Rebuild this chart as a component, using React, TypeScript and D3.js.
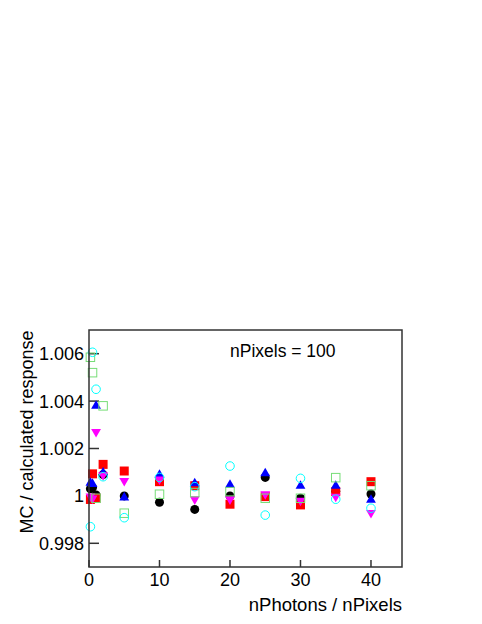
import React from "react";
import * as d3 from "d3";

const xValues = [0.2, 0.5, 1, 2, 5, 10, 15, 20, 25, 30, 35, 40];
const blackCircle = [1.0003, 1.00035, 1.00004, 1.0009, 1.0, 0.99973, 0.99943, 1.0, 1.00078, 0.9999, 1.0002, 1.00008];
const redSquare = [0.99985, 1.00093, 0.9999, 1.00133, 1.00105, 1.0006, 1.00043, 0.99965, 0.99997, 0.99962, 1.00018, 1.0006];
const blueTriUp = [1.00055, 1.0005, 1.0038, 1.00098, 0.99993, 1.00088, 1.00053, 1.00046, 1.00095, 1.00042, 1.00042, 0.99983];
const magentaTriDown = [0.99998, 0.9999, 1.0027, 1.00088, 1.00064, 1.0007, 0.99986, 0.99986, 1.00008, 0.9998, 0.99997, 0.99929];
const greenOpenSquare = [1.00585, 1.0052, 0.9999, 1.0038, 0.99927, 1.00007, 1.00014, 1.00018, 0.9999, 0.9999, 1.00077, 1.00043];
const cyanOpenCircle = [0.9987, 1.00606, 1.0045, 1.00081, 0.99908, 1.00078, 1.00039, 1.00126, 0.99919, 1.00074, 0.99986, 0.99948];

const xTicks = [0, 10, 20, 30, 40];
const yTicks = [0.998, 1.0, 1.002, 1.004, 1.006];
const yTickLabels = ["0.998", "1", "1.002", "1.004", "1.006"];

const series = [
  { name: "black", values: blackCircle, shape: "circle", fill: "#000000", stroke: "none" },
  { name: "red", values: redSquare, shape: "square", fill: "#ff0000", stroke: "none" },
  { name: "blue", values: blueTriUp, shape: "triUp", fill: "#0000ff", stroke: "none" },
  { name: "magenta", values: magentaTriDown, shape: "triDown", fill: "#ff00ff", stroke: "none" },
  { name: "green", values: greenOpenSquare, shape: "square", fill: "none", stroke: "#77dd77" },
  { name: "cyan", values: cyanOpenCircle, shape: "circle", fill: "none", stroke: "#00ffff" },
];

const W = 482;
const H = 624;
const left = 89;
const right = 402;
const top = 330;
const bottom = 567;

export default function App() {
  const x = d3.scaleLinear().domain([0, 44.4]).range([left, right]);
  const y = d3.scaleLinear().domain([0.997, 1.007]).range([bottom, top]);
  const font = "'Liberation Sans', Arial, Helvetica, sans-serif";

  const marker = (shape: string, cx: number, cy: number, fill: string, stroke: string, key: string) => {
    const open = fill === "none";
    const sw = open ? 1 : 0;
    if (shape === "circle") {
      return <circle key={key} cx={cx} cy={cy} r={open ? 4.3 : 4.5} fill={fill} stroke={stroke} strokeWidth={sw} />;
    }
    if (shape === "square") {
      const s = open ? 8.5 : 9;
      return <rect key={key} x={cx - s / 2} y={cy - s / 2} width={s} height={s} fill={fill} stroke={stroke} strokeWidth={sw} />;
    }
    const sym = d3.symbol().type(d3.symbolTriangle).size(42)();
    if (shape === "triUp") {
      return <path key={key} d={sym as string} transform={`translate(${cx},${cy})`} fill={fill} />;
    }
    return <path key={key} d={sym as string} transform={`translate(${cx},${cy}) rotate(180)`} fill={fill} />;
  };

  return (
    <svg width={W} height={H} style={{ display: "block", position: "absolute", left: 0, top: 0 }}>
      <rect x={0} y={0} width={W} height={H} fill="#ffffff" />
      {yTicks.map((t) => (
        <line key={"yt" + t} x1={left} x2={left + 10} y1={y(t)} y2={y(t)} stroke="#333" strokeWidth={1.5} />
      ))}
      {xTicks.map((t) => (
        <line key={"xt" + t} x1={x(t)} x2={x(t)} y1={bottom} y2={bottom - 7} stroke="#333" strokeWidth={1.5} />
      ))}
      {series.map((s) =>
        s.values.map((v, i) => marker(s.shape, x(xValues[i]), y(v), s.fill, s.stroke, s.name + i))
      )}
      <rect x={left} y={top} width={right - left} height={bottom - top} fill="none" stroke="#333" strokeWidth={1.5} />
      {yTicks.map((t, i) => (
        <text key={"yl" + t} x={left - 5} y={y(t) + 6.5} textAnchor="end" fontFamily={font} fontSize={18} fill="#000">
          {yTickLabels[i]}
        </text>
      ))}
      {xTicks.map((t) => (
        <text key={"xl" + t} x={x(t)} y={bottom + 19} textAnchor="middle" fontFamily={font} fontSize={18} fill="#000">
          {t}
        </text>
      ))}
      <text x={right} y={611} textAnchor="end" fontFamily={font} fontSize={18.5} fill="#000">
        nPhotons / nPixels
      </text>
      <text
        transform={`translate(33, 432) rotate(-90)`}
        textAnchor="middle"
        fontFamily={font}
        fontSize={18}
        fill="#000"
      >
        MC / calculated response
      </text>
      <text x={230} y={357} fontFamily={font} fontSize={17.5} fill="#000">
        nPixels = 100
      </text>
    </svg>
  );
}
